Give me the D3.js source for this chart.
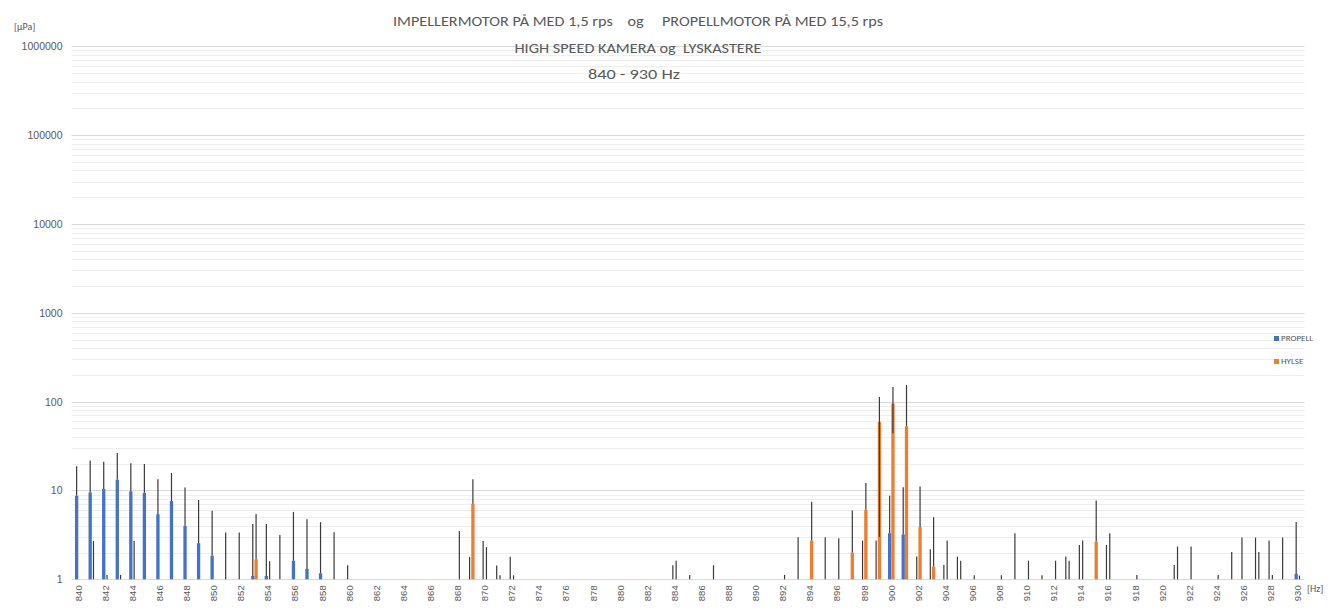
<!DOCTYPE html>
<html><head><meta charset="utf-8">
<script src="https://cdn.jsdelivr.net/npm/d3@7"></script>
<style>
html,body{margin:0;padding:0;background:#fff;}
svg{display:block;font-family:Carlito,"Liberation Sans Narrow","Liberation Sans",Arial,sans-serif;}
</style></head>
<body><svg id="chart" width="1333" height="614"></svg>
<script>
// ---- data ----
const titleLines = ["IMPELLERMOTOR PÅ MED 1,5 rps    og     PROPELLMOTOR PÅ MED 15,5 rps",
                    "HIGH SPEED KAMERA og  LYSKASTERE",
                    "840 - 930 Hz"];
const seriesNames = ["PROPELL", "HYLSE"];
const categories = [840,841,842,843,844,845,846,847,848,849,850,851,852,853,854,855,856,857,858,859,
  860,861,862,863,864,865,866,867,868,869,870,871,872,873,874,875,876,877,878,879,
  880,881,882,883,884,885,886,887,888,889,890,891,892,893,894,895,896,897,898,899,
  900,901,902,903,904,905,906,907,908,909,910,911,912,913,914,915,916,917,918,919,
  920,921,922,923,924,925,926,927,928,929,930];
const xTickLabels = [840,842,844,846,848,850,852,854,856,858,860,862,864,866,868,870,872,874,876,878,
  880,882,884,886,888,890,892,894,896,898,900,902,904,906,908,910,912,914,916,918,920,922,924,926,928,930];
const yTickValues = [1,10,100,1000,10000,100000,1000000];

const propell = [8.7,9.5,10.4,13.2,9.8,9.4,5.4,7.6,4.0,2.55,
  1.85,0,0,1.09,1.09,0,1.62,1.31,1.17,0,
  0,0,0,0,0,0,0,0,0,0,
  0,0,0,0,0,0,0,0,0,0,
  0,0,0,0,0,0,0,0,0,0,
  0,0,0,0,0,0,0,0,0,0,
  3.3,3.2,0,0,0,0,0,0,0,0,
  0,0,0,0,0,0,0,0,0,0,
  0,0,0,0,0,0,0,0,0,0,
  1.15];
const propellErr = [10.0,12.3,10.6,13.2,10.5,10.4,8.0,8.1,6.8,5.25,
  4.05,3.36,3.36,3.1,3.1,3.16,4.12,3.44,3.23,3.39,
  1.44,0,0,0,0,0,0,0,0,1.79,
  2.7,1.43,1.79,0,0,0,0,0,0,0,
  0,0,0,0,1.44,0,0,1.44,0,0,
  0,0,0,0,0,0,0,0,2.73,2.73,
  5.4,7.7,1.8,2.18,1.45,1.8,0,0,0,0,
  0,0,0,1.8,2.44,0,2.44,0,0,0,
  0,1.45,0,0,0,0,2.95,2.95,2.73,2.95,
  3.28];
const hylse = [0,0,0,0,0,0,0,0,0,0,
  0,0,0,1.68,0,0,0,0,0,0,
  0,0,0,0,0,0,0,0,0,7.1,
  0,0,0,0,0,0,0,0,0,0,
  0,0,0,0,0,0,0,0,0,0,
  0,0,0,0,2.73,0,0,2.0,6.05,59,
  95,52.7,3.86,1.39,0,0,0,0,0,0,
  0,0,0,0,0,2.66,0,0,0,0,
  0,0,0,0,0,0,0,0,0,0,
  0];
const hylseErr = [0,2.7,1.12,1.12,2.7,0,0,0,0,0,
  0,0,0,3.77,1.6,0,0,0,0,0,
  0,0,0,0,0,0,0,0,3.5,6.3,
  2.3,1.11,1.11,0,0,0,0,0,0,0,
  0,0,0,0,1.62,1.12,0,0,0,0,
  0,0,1.12,2.98,4.72,2.98,2.9,3.95,6.05,54,
  51,101,7.24,3.61,2.73,1.62,1.11,0,1.11,3.3,
  1.62,1.11,1.62,1.62,2.73,5.04,3.3,0,1.12,0,
  0,2.34,2.34,0,1.12,2.03,0,2.03,1.12,0,
  1.1];
// error bars that also extend below the column top
const hylseMinusHz = [899, 900];
const hylseMinusErr = [56, 51];

// ---- layout ----
const svg = d3.select("#chart");
const plot = {left: 71.5, right: 1304.6, top: 46.3, bottom: 579.3};
const textCol = "#595959";

const x = d3.scaleBand().domain(categories).range([plot.left, plot.right])
  .paddingInner(0.513).paddingOuter(0.2565);
const xs = d3.scaleBand().domain(seriesNames).range([0, x.bandwidth()]);
const y = d3.scaleLog().domain([1, 1000000]).range([plot.bottom, plot.top]);

// gridlines
const minor = [];
for (let d = 1; d < 1000000; d *= 10) for (let m = 2; m <= 9; m++) minor.push(d * m);
svg.append("g").selectAll("line").data(minor).join("line")
  .attr("x1", plot.left).attr("x2", plot.right)
  .attr("y1", d => Math.round(y(d)) + 0.5).attr("y2", d => Math.round(y(d)) + 0.5)
  .attr("stroke", "#eeeeee").attr("stroke-width", 1);
svg.append("g").selectAll("line").data(yTickValues).join("line")
  .attr("x1", plot.left).attr("x2", plot.right)
  .attr("y1", d => Math.round(y(d)) + 0.5).attr("y2", d => Math.round(y(d)) + 0.5)
  .attr("stroke", "#d9d9d9").attr("stroke-width", 1);

// y axis labels
const yAxis = d3.axisLeft(y).tickValues(yTickValues).tickFormat(d3.format("d")).tickSize(0).tickPadding(0);
const gy = svg.append("g").attr("transform", `translate(${plot.left - 9},0)`).call(yAxis);
gy.select(".domain").remove();
gy.selectAll("text").attr("fill", textCol).style("font-size", "10.5px")
  .style("font-family", "'Liberation Sans',Arial,sans-serif");

// x axis labels
const xAxis = d3.axisBottom(x).tickValues(xTickLabels).tickSize(0).tickPadding(0);
const gx = svg.append("g").attr("transform", `translate(0,${plot.bottom})`).call(xAxis);
gx.select(".domain").remove();
gx.selectAll("text").attr("fill", textCol).style("font-size", "9.5px")
  .style("font-family", "'Liberation Sans',Arial,sans-serif")
  .attr("text-anchor", "end").attr("dy", "0.35em")
  .attr("transform", "translate(0,6) rotate(-90)").attr("x", 0).attr("y", 0);

// bars
const series = [
  {name: "PROPELL", vals: propell, err: propellErr, color: "#4472C4"},
  {name: "HYLSE", vals: hylse, err: hylseErr, color: "#ED7D31"}
];
const gb = svg.append("g");
series.forEach(s => {
  const rows = categories.map((c, i) => ({c, v: s.vals[i], e: s.err[i]}));
  gb.append("g").selectAll("rect").data(rows.filter(r => r.v > 1)).join("rect")
    .attr("x", r => x(r.c) + xs(s.name))
    .attr("width", xs.bandwidth())
    .attr("y", r => y(r.v))
    .attr("height", r => y(1) - y(r.v))
    .attr("fill", s.color);
});
// error bars (from column top, or from the baseline when the value is below the axis minimum)
series.forEach(s => {
  const rows = categories.map((c, i) => {
    const mi = s.name === "HYLSE" ? hylseMinusHz.indexOf(c) : -1;
    return {c, v: s.vals[i], e: s.err[i], m: mi >= 0 ? hylseMinusErr[mi] : 0};
  }).filter(r => r.e > 0);
  gb.append("g").selectAll("line").data(rows).join("line")
    .attr("x1", r => x(r.c) + xs(s.name) + xs.bandwidth() / 2)
    .attr("x2", r => x(r.c) + xs(s.name) + xs.bandwidth() / 2)
    .attr("y1", r => y(Math.max(1, r.v - r.m)))
    .attr("y2", r => y(Math.max(1, r.v + r.e)))
    .attr("stroke", "#3a3a3a").attr("stroke-width", 1.2);
});

// title
const titleX = [638, 638, 634];
const titleW = [490, 247, 92];
svg.append("g").selectAll("text").data(titleLines).join("text")
  .attr("x", (d, i) => titleX[i]).attr("y", (d, i) => [25.7, 52.7, 79][i])
  .attr("text-anchor", "middle").attr("fill", textCol)
  .style("font-size", "15px").style("white-space", "pre").attr("xml:space", "preserve")
  .attr("textLength", (d, i) => titleW[i]).attr("lengthAdjust", "spacingAndGlyphs")
  .text(d => d);

// unit labels
svg.append("text").attr("x", 14).attr("y", 30).attr("fill", textCol)
  .style("font-size", "10px").text("[µPa]");
svg.append("text").attr("x", 1307).attr("y", 592).attr("fill", textCol)
  .style("font-size", "10px").text("[Hz]");

// legend
const lg = svg.append("g").selectAll("g").data(series).join("g")
  .attr("transform", (d, i) => `translate(1274,${336 + i * 23})`);
lg.append("rect").attr("width", 5).attr("height", 5).attr("fill", d => d.color);
lg.append("text").attr("x", 7).attr("y", 5).attr("fill", textCol)
  .style("font-size", "9px").text(d => d.name);
</script></body></html>
